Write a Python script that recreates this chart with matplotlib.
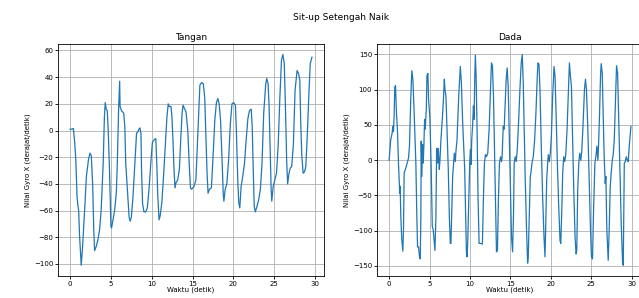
"""
Sit-up Setengah Naik: Gyro X dari sensor tangan dan dada.
"""
import matplotlib
matplotlib.use('Agg')
import matplotlib.pyplot as plt

# Tangan (hand) - waktu (detik) dan nilai gyro X
t_tangan = [0.0, 0.2, 0.4, 0.55, 0.7, 0.85, 0.95, 1.05, 1.15, 1.36, 1.5, 1.74, 2.0, 2.27, 2.44,
            2.6, 2.77, 2.9, 3.0, 3.2, 3.4, 3.6, 3.8, 4.05, 4.2, 4.3, 4.42, 4.55, 4.67, 4.83,
            5.0, 5.08, 5.25, 5.45, 5.66, 5.78, 5.95, 6.07, 6.12, 6.28, 6.57, 6.7, 6.82, 7.02,
            7.23, 7.36, 7.5, 7.7, 7.93, 8.14, 8.3, 8.43, 8.55, 8.68, 8.76, 8.88, 9.05, 9.26,
            9.46, 9.67, 9.88, 10.08, 10.29, 10.5, 10.62, 10.74, 10.9, 11.03, 11.24, 11.45,
            11.65, 11.86, 12.02, 12.15, 12.36, 12.48, 12.6, 12.73, 12.85, 12.98, 13.18, 13.39,
            13.55, 13.72, 13.84, 13.97, 14.2, 14.42, 14.59, 14.75, 14.88, 15.17, 15.41, 15.58,
            15.74, 15.9, 16.12, 16.32, 16.49, 16.65, 16.78, 16.9, 17.07, 17.31, 17.52, 17.73,
            17.93, 18.1, 18.26, 18.43, 18.6, 18.76, 18.84, 19.0, 19.2, 19.42, 19.63, 19.83,
            20.04, 20.25, 20.37, 20.54, 20.66, 20.79, 20.95, 21.16, 21.36, 21.57, 21.78, 21.98,
            22.19, 22.31, 22.44, 22.56, 22.69, 22.89, 23.1, 23.31, 23.51, 23.72, 23.97, 24.09,
            24.26, 24.38, 24.5, 24.63, 24.71, 24.88, 25.08, 25.29, 25.5, 25.7, 25.9, 26.07,
            26.24, 26.4, 26.53, 26.65, 26.82, 26.98, 27.15, 27.36, 27.56, 27.81, 27.98, 28.14,
            28.26, 28.39, 28.55, 28.72, 28.88, 29.05, 29.26, 29.42, 29.63]
gyro_tangan = [1, 1, 1.5, -8, -22, -50, -56, -60, -78, -101, -90, -64, -34, -21, -17,
               -19, -42, -75, -90, -87, -82, -75, -60, -25, 10, 21, 16, 15, 0, -30,
               -72, -73, -67, -60, -47, -25, 18, 37, 18, 15, 13, 3, -25, -45,
               -65, -68, -65, -50, -25, -2, -1, 1, 2, -2, -32, -55, -61, -61,
               -58, -44, -25, -9, -7, -6, -25, -49, -67, -64, -54, -34,
               -12, 10, 20, 18, 18, 10, -7, -29, -43, -39, -37, -29,
               -7, 13, 19, 17, 14, 0, -25, -43, -44, -42, -37, -12,
               13, 34, 36, 35, 25, -7, -32, -47, -44, -43, -19, 8,
               21, 24, 20, 8, -19, -47, -53, -44, -40, -22, 5, 20,
               21, 19, 0, -37, -54, -58, -42, -34, -25, -7, 9, 15,
               16, 3, -30, -57, -61, -57, -52, -44, -25, 13, 35, 39,
               35, 18, -12, -44, -53, -42, -37, -32, -10, 25, 53, 57,
               50, 13, -22, -40, -32, -28, -27, -10, 30, 45, 43, 38,
               5, -19, -32, -31, -27, -5, 28, 50, 55]

# Dada (chest)
t_dada = [0.0, 0.2, 0.37, 0.45, 0.54, 0.62, 0.7, 0.79, 0.91, 1.03, 1.16, 1.28, 1.3, 1.37, 1.45,
          1.57, 1.7, 1.78, 1.86, 2.07, 2.28, 2.4, 2.52, 2.69, 2.81, 2.94, 3.1, 3.31, 3.43,
          3.52, 3.64, 3.76, 3.85, 3.93, 3.97, 4.05, 4.14, 4.22, 4.3, 4.39, 4.47, 4.6, 4.68,
          4.8, 4.88, 4.96, 5.05, 5.21, 5.34, 5.46, 5.59, 5.67, 5.79, 5.88, 6.0, 6.08, 6.21,
          6.29, 6.41, 6.58, 6.74, 6.83, 6.91, 7.03, 7.16, 7.32, 7.45, 7.57, 7.65, 7.74, 7.86,
          7.98, 8.07, 8.19, 8.27, 8.4, 8.61, 8.81, 8.94, 9.1, 9.23, 9.35, 9.47, 9.56, 9.64,
          9.72, 9.85, 9.97, 10.05, 10.14, 10.22, 10.34, 10.43, 10.51, 10.59, 10.67, 10.76,
          10.88, 11.0, 11.13, 11.3, 11.54, 11.67, 11.79, 11.92, 12.04, 12.2, 12.37, 12.54,
          12.66, 12.78, 12.91, 13.03, 13.16, 13.28, 13.4, 13.53, 13.65, 13.78, 13.9, 13.98,
          14.11, 14.23, 14.36, 14.48, 14.6, 14.73, 14.85, 14.98, 15.14, 15.27, 15.39, 15.47,
          15.6, 15.72, 15.85, 16.01, 16.18, 16.34, 16.47, 16.59, 16.71, 16.84, 17.0, 17.13,
          17.21, 17.34, 17.46, 17.54, 17.67, 17.83, 18.0, 18.16, 18.33, 18.41, 18.54, 18.66,
          18.82, 18.99, 19.16, 19.28, 19.36, 19.49, 19.61, 19.69, 19.82, 19.94, 20.07, 20.23,
          20.4, 20.52, 20.65, 20.81, 20.98, 21.14, 21.23, 21.35, 21.47, 21.6, 21.72, 21.85,
          22.01, 22.18, 22.3, 22.42, 22.55, 22.67, 22.84, 23.0, 23.13, 23.21, 23.33, 23.46,
          23.58, 23.71, 23.83, 24.0, 24.16, 24.29, 24.41, 24.58, 24.74, 24.91, 25.03, 25.16,
          25.28, 25.45, 25.57, 25.7, 25.82, 25.9, 26.03, 26.15, 26.23, 26.36, 26.48, 26.6,
          26.73, 26.81, 26.93, 27.1, 27.22, 27.35, 27.47, 27.6, 27.72, 27.85, 28.01, 28.13,
          28.26, 28.38, 28.55, 28.71, 28.88, 28.96, 29.09, 29.21, 29.33, 29.46, 29.58, 29.7,
          29.91]
gyro_dada = [0, 29, 38, 48, 41, 62, 103, 106, 67, 44, -4, -37, -47, -37, -80,
             -113, -129, -99, -18, -11, -2, 3, 20, 91, 127, 115, 67, -4, -80,
             -123, -123, -137, -140, -80, 27, -23, 22, -4, 20, 58, 44, 72, 120,
             123, 86, 74, 58, -13, -94, -99, -118, -128, -80, 17, -4, 17, -13,
             0, 29, 58, 91, 115, 100, 91, 44, -13, -80, -118, -118, -75, -23,
             -4, 10, -2, 13, 29, 91, 133, 110, 53, 20, -13, -80, -130, -137,
             -118, -61, -4, 15, -6, 29, 53, 77, 58, 115, 149, 120,
             44, -52, -118, -118, -119, -52, -4, 8, 5, 10, 44, 100,
             138, 134, 91, 20, -52, -130, -128, -52, -4, 5, -2, 5,
             48, 44, 81, 115, 131, 105, 44, -28, -109, -130, -75, -4,
             5, -2, 15, 53, 100, 138, 150, 110, 44, -28, -99, -146,
             -137, -75, -23, -18, -4, 5, 29, 67, 120, 138, 136, 100,
             20, -52, -109, -137, -99, -28, -4, 8, -2, 10, 34, 91,
             133, 120, 67, -4, -66, -114, -118, -75, -18, 5, -2, 8,
             44, 100, 138, 120, 105, 44, -42, -109, -133, -128, -42, -4,
             10, 0, 13, 53, 100, 115, 100, 44, -28, -99, -137, -140,
             -75, -4, 5, 20, 0, 20, 67, 120, 137, 124, 67, 5,
             -33, -23, -99, -142, -99, -37, -18, 0, 8, 29, 91, 134,
             124, 67, -13, -90, -146, -149, -4, -2, 5, 0, -2, 20,
             48]

plt.rcParams['font.family'] = ['DejaVu Sans']
fig = plt.figure(figsize=(6.39, 2.98), dpi=100)
fig.suptitle('Sit-up Setengah Naik', x=0.534, y=0.955, fontsize=6.5)

ax1 = fig.add_axes([0.0908, 0.0745, 0.4163, 0.778])
ax2 = fig.add_axes([0.59, 0.0745, 0.4163, 0.778])

for ax, t, g, title in [(ax1, t_tangan, gyro_tangan, 'Tangan'),
                        (ax2, t_dada, gyro_dada, 'Dada')]:
    ax.plot(t, g, color='tab:blue', linewidth=0.9)
    ax.set_title(title, fontsize=6.5, pad=2.5)
    ax.set_xlabel('Waktu (detik)', fontsize=5, labelpad=0)
    ax.set_ylabel('Nilai Gyro X (derajat/detik)', fontsize=5, labelpad=2)
    ax.tick_params(labelsize=5, length=2, width=0.6, pad=1.5)
    ax.grid(True, linewidth=0.6)
    for s in ax.spines.values():
        s.set_linewidth(0.6)

ax1.set_xticks([0, 5, 10, 15, 20, 25, 30])
ax1.set_yticks([-100, -80, -60, -40, -20, 0, 20, 40, 60])
ax2.set_xticks([0, 5, 10, 15, 20, 25, 30])
ax2.set_yticks([-150, -100, -50, 0, 50, 100, 150])

plt.savefig('out.png', dpi=100)
